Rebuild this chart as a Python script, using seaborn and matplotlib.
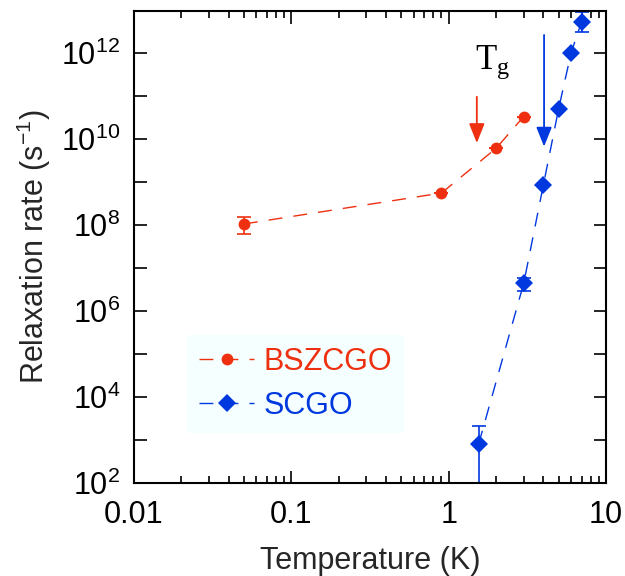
import numpy as np
import pandas as pd
import matplotlib
matplotlib.use('Agg')
import matplotlib.pyplot as plt
import seaborn as sns
from matplotlib.ticker import LogLocator, FixedLocator, FuncFormatter, NullFormatter

sns.set_theme(style='ticks')
plt.rcParams['font.family'] = ['Liberation Sans', 'DejaVu Sans']
plt.rcParams['mathtext.fontset'] = 'custom'
plt.rcParams['mathtext.rm'] = 'Liberation Sans'

COLORS = {'BSZCGO': '#EE3010', 'SCGO': '#0038E0'}

# BSZCGO data (circles)
bszcgo_T = [0.05, 0.9, 2.0, 3.0]
bszcgo_rate = [1.05e8, 5.5e8, 6.0e9, 3.3e10]
bszcgo_lo = [6.0e7, 5.5e8, 6.0e9, 3.3e10]
bszcgo_hi = [1.55e8, 5.5e8, 6.0e9, 3.3e10]

# SCGO data (diamonds)
scgo_T = [1.55, 3.0, 4.0, 5.0, 6.0, 7.0]
scgo_rate = [8.0e2, 4.4e6, 8.5e8, 5.0e10, 1.0e12, 5.3e12]
scgo_lo = [30.0, 2.9e6, 8.5e8, 5.0e10, 1.0e12, 3.0e12]
scgo_hi = [2.1e3, 5.8e6, 8.5e8, 5.0e10, 1.0e12, 9.0e12]

# Tg arrows (x position, start, tip)
arrow_T = [1.51, 4.04]
arrow_top = [9.5e10, 2.6e12]
arrow_tip = [8.0e9, 6.6e9]

df = pd.concat([
    pd.DataFrame({'T': bszcgo_T, 'rate': bszcgo_rate, 'sample': 'BSZCGO'}),
    pd.DataFrame({'T': scgo_T, 'rate': scgo_rate, 'sample': 'SCGO'}),
])

fig, ax = plt.subplots(figsize=(6.25, 5.76), dpi=100)
fig.subplots_adjust(left=0.2144, right=0.9696, bottom=0.1615, top=0.981)

ax.set_xscale('log')
ax.set_yscale('log')

sns.lineplot(data=df, x='T', y='rate', hue='sample', style='sample',
             palette=COLORS, markers={'BSZCGO': 'o', 'SCGO': 'D'},
             dashes={'BSZCGO': (10, 8), 'SCGO': (10, 8)},
             markersize=8.5, markeredgewidth=0, linewidth=1.0,
             sort=False, ax=ax, legend='full')

# slightly larger diamonds
for ln in ax.lines:
    if ln.get_marker() == 'D':
        ln.set_markersize(9.5)

# error bars
for T, r, lo, hi, key in [(bszcgo_T, bszcgo_rate, bszcgo_lo, bszcgo_hi, 'BSZCGO'),
                          (scgo_T, scgo_rate, scgo_lo, scgo_hi, 'SCGO')]:
    r = np.array(r)
    yerr = np.vstack([r - np.array(lo), np.array(hi) - r])
    ax.errorbar(T, r, yerr=yerr, fmt='none', ecolor=COLORS[key],
                elinewidth=1.2, capsize=5, capthick=1.2, zorder=1)

# Tg arrows
for x, top, tip, key in zip(arrow_T, arrow_top, arrow_tip, ['BSZCGO', 'SCGO']):
    ax.annotate('', xy=(x, tip), xytext=(x, top),
                arrowprops=dict(arrowstyle='-|>,head_length=0.7,head_width=0.28',
                                mutation_scale=17, lw=1.3,
                                color=COLORS[key], shrinkA=0, shrinkB=0))

ax.text(1.89, 6.0e11, r'$\mathregular{T_g}$', family='Liberation Serif',
        fontsize=25, ha='center', va='center', color='black')

ax.set_xlim(0.01, 10)
ax.set_ylim(1e2, 9.4e12)

ax.xaxis.set_major_locator(LogLocator(base=10, numticks=10))
ax.xaxis.set_minor_locator(LogLocator(base=10, subs=np.arange(2, 10), numticks=20))
ax.xaxis.set_major_formatter(FuncFormatter(lambda v, p: f'{v:g}'))
ax.xaxis.set_minor_formatter(NullFormatter())

ax.yaxis.set_major_locator(FixedLocator([10.0 ** k for k in range(2, 14)]))
ax.yaxis.set_minor_locator(FixedLocator([]))
ax.yaxis.set_major_formatter(FuncFormatter(
    lambda v, p: r'$\mathregular{10^{%d}}$' % round(np.log10(v)) if round(np.log10(v)) % 2 == 0 else ''))

ax.tick_params(which='both', direction='in', top=True, right=True,
               colors='black', labelsize=22, width=1.2)
ax.tick_params(which='major', length=9)
ax.tick_params(which='minor', length=5)
ax.tick_params(axis='x', which='major', pad=12)
ax.tick_params(axis='y', which='major', pad=10)
for s in ax.spines.values():
    s.set_linewidth(1.5)
    s.set_color('black')

ax.set_xlabel('Temperature (K)', fontsize=22, labelpad=12)
ax.set_ylabel(r'Relaxation rate (s$^{\mathregular{-1}}$)', fontsize=22, labelpad=6)

leg = ax.legend(loc='lower left', bbox_to_anchor=(0.112, 0.106), fontsize=22,
                frameon=True, fancybox=False, handlelength=1.8, handletextpad=0.3,
                borderpad=0.4, labelspacing=0.45, borderaxespad=0)
leg.get_frame().set_facecolor('#F5FFFF')
leg.get_frame().set_edgecolor('none')
leg.get_frame().set_alpha(1)
for txt in leg.get_texts():
    txt.set_color(COLORS[txt.get_text()])

plt.savefig('out.png', dpi=100)
